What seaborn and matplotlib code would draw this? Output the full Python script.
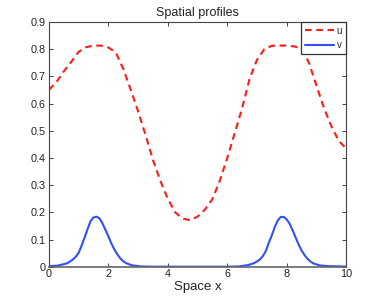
import matplotlib
matplotlib.use("Agg")
import matplotlib.pyplot as plt
import seaborn as sns
import pandas as pd

# u profile
x_u = [0.0, 0.25, 0.5, 0.75, 1.0, 1.25, 1.5, 1.75, 2.0, 2.25, 2.5, 2.75, 3.0, 3.25,
       3.5, 3.75, 4.0, 4.25, 4.5, 4.75, 5.0, 5.25, 5.5, 5.75, 6.0, 6.25, 6.5, 6.75,
       7.0, 7.25, 7.5, 7.75, 8.0, 8.25, 8.5, 8.75, 9.0, 9.25, 9.5, 9.75, 10.0]
u_vals = [0.650, 0.678, 0.718, 0.753, 0.790, 0.807, 0.813, 0.813, 0.806, 0.788, 0.728,
          0.652, 0.572, 0.485, 0.393, 0.316, 0.250, 0.200, 0.177, 0.171, 0.184, 0.210,
          0.248, 0.316, 0.399, 0.490, 0.582, 0.690, 0.760, 0.800, 0.812, 0.813, 0.813,
          0.810, 0.803, 0.750, 0.667, 0.585, 0.518, 0.463, 0.435]

# v profile
x_v = [0.0, 0.3, 0.6, 0.7, 0.8, 0.9, 1.0, 1.1, 1.2, 1.3, 1.4, 1.5, 1.6, 1.7, 1.8,
       1.9, 2.0, 2.1, 2.2, 2.3, 2.4, 2.5, 2.6, 2.8, 3.1, 3.5, 6.0, 6.4, 6.7, 6.9,
       7.0, 7.1, 7.2, 7.3, 7.4, 7.5, 7.6, 7.7, 7.8, 7.9, 8.0, 8.1, 8.2, 8.3, 8.4,
       8.5, 8.6, 8.7, 8.8, 8.9, 9.1, 9.4, 9.8, 10.0]
v_vals = [0.002, 0.004, 0.012, 0.018, 0.026, 0.036, 0.051, 0.077, 0.107, 0.138, 0.167,
          0.181, 0.184, 0.178, 0.160, 0.136, 0.112, 0.086, 0.064, 0.046, 0.031, 0.020,
          0.013, 0.005, 0.001, 0.0, 0.0, 0.001, 0.006, 0.013, 0.019, 0.027, 0.039,
          0.058, 0.088, 0.115, 0.146, 0.170, 0.183, 0.183, 0.174, 0.158, 0.134, 0.108,
          0.082, 0.060, 0.043, 0.029, 0.019, 0.012, 0.005, 0.002, 0.001, 0.0005]

x_ticks = [0, 2, 4, 6, 8, 10]
y_ticks = [0, 0.1, 0.2, 0.3, 0.4, 0.5, 0.6, 0.7, 0.8, 0.9]
y_ticklabels = ["0", "0.1", "0.2", "0.3", "0.4", "0.5", "0.6", "0.7", "0.8", "0.9"]

sns.set_theme(style="ticks")
plt.rcParams['font.family'] = ['Liberation Sans', 'DejaVu Sans']

df_u = pd.DataFrame({"x": x_u, "val": u_vals})
df_v = pd.DataFrame({"x": x_v, "val": v_vals})

fig = plt.figure(figsize=(3.82, 3.0), dpi=100)
ax = fig.add_axes([0.128, 0.111, 0.778, 0.816])

sns.lineplot(data=df_u, x="x", y="val", ax=ax, color="#ff1a1a", linewidth=1.5,
             label="u", dashes=False)
ax.lines[-1].set_linestyle((0, (3.2, 2.2)))
sns.lineplot(data=df_v, x="x", y="val", ax=ax, color="#3050f8", linewidth=1.5,
             label="v")

ax.set_xlim(0, 10)
ax.set_ylim(0, 0.9)
ax.set_xticks(x_ticks)
ax.set_xticklabels([str(t) for t in x_ticks])
ax.set_yticks(y_ticks)
ax.set_yticklabels(y_ticklabels)
ax.tick_params(direction="in", length=3, width=0.6, top=True, right=True,
               labelsize=7.8, colors="#222222", pad=2)
for s in ax.spines.values():
    s.set_color("#444444")
    s.set_linewidth(0.8)
ax.spines["bottom"].set_linewidth(1.2)
ax.spines["bottom"].set_color("#666666")

ax.set_title("Spatial profiles", fontsize=9, color="#222222", pad=4)
ax.set_xlabel("Space x", fontsize=9.5, color="#222222", labelpad=1)
ax.set_ylabel("")

leg = ax.legend(loc="upper right", borderaxespad=0, fancybox=False,
                edgecolor="#333333", framealpha=1, fontsize=7,
                handlelength=3.0, handletextpad=0.3, borderpad=0.4,
                labelspacing=0.45)
leg.get_frame().set_linewidth(0.9)

fig.savefig("out.png", dpi=100)
